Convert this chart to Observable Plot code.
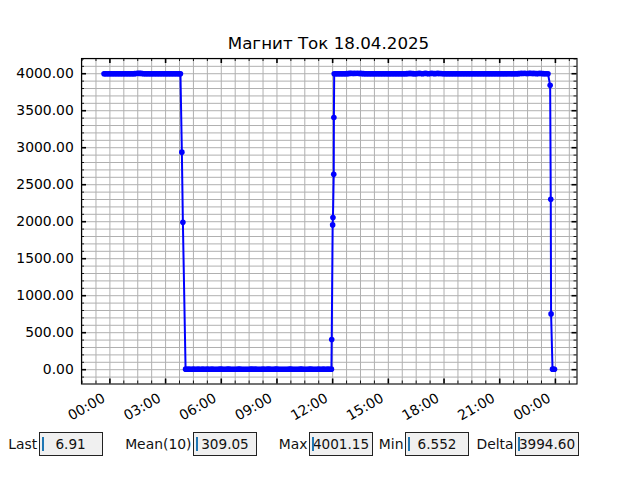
<!DOCTYPE html>
<html>
<head>
<meta charset="utf-8">
<script src="https://cdn.jsdelivr.net/npm/d3@7"></script>
<script src="https://cdn.jsdelivr.net/npm/@observablehq/plot@0.6"></script>
<style>
  body { margin: 0; background: #fff; font-family: "DejaVu Sans", sans-serif; }
  #wrap { position: relative; width: 640px; height: 480px; overflow: hidden; background: #fff; }
  #chart { position: absolute; left: 0; top: 0; }
  #title { position: absolute; left: 0; width: 657px; top: 33px; text-align: center;
           font-size: 16.7px; line-height: 20px; color: #000; white-space: nowrap; }
  .slabel { position: absolute; top: 432px; height: 24px; line-height: 24px; font-size: 13.9px;
            color: #111; white-space: nowrap; text-align: right; }
  .sbox { position: absolute; top: 432px; width: 64px; height: 24px; box-sizing: border-box;
          border: 1px solid #222; background: #f0f0f0; text-align: center; line-height: 22px;
          font-size: 13.6px; color: #111; white-space: nowrap; }
  .cursor { position: absolute; left: 2px; top: 4px; width: 2px; height: 14px; background: #1f77b4; }
</style>
</head>
<body>
<div id="wrap">
  <div id="chart"></div>
  <div id="title"></div>
</div>
<script>
// ---- data: [minutes since 18.04.2025 00:00, current value] ----
const titleText = "Магнит Ток 18.04.2025";

const highMorning = [[-19,4000.1],[-15,4000.0],[-10,3999.9],[-5,4000.1],[0,4000.2],[5,3999.9],[10,4000.0],
  [15,4000.1],[20,3999.8],[25,4000.0],[30,4000.1],[35,3999.9],[40,4000.3],[45,4000.1],[50,4000.0],[55,3999.8],
  [60,3999.9],[65,4000.1],[70,4000.2],[75,4000.0],[80,4001.1],[85,4003.9],[90,4005.5],[95,4004.2],[100,4004.8],
  [105,4002.0],[110,4000.4],[115,4000.0],[120,4000.1],[125,3999.8],[130,3999.9],[135,4000.2],[140,4000.0],
  [145,3999.9],[150,4000.2],[155,4000.1],[160,3999.8],[165,4000.0],[170,4000.1],[175,3999.9],[180,4000.0],
  [185,4000.2],[190,3999.9],[195,4000.0],[200,4000.2],[205,3999.8],[210,4000.1],[215,4000.0],[220,3999.8],
  [225,4000.1],[228,4000.0]];
const dropMorning = [[232.6,2940],[235.9,1993]];
const lowDay = [[244.6,7.0],[250,6.9],[255,7.0],[260,6.8],[265,6.9],[270,7.1],[275,6.8],[280,6.9],[285,7.0],
  [290,6.7],[295,6.9],[300,7.0],[305,6.8],[310,6.8],[315,7.1],[320,6.9],[325,6.7],[330,7.2],[335,6.9],[340,6.6],
  [345,6.8],[350,6.9],[355,7.0],[360,7.0],[365,6.8],[370,6.8],[375,6.9],[380,7.1],[385,7.0],[390,6.9],[395,6.8],
  [400,6.7],[405,6.9],[410,6.9],[415,7.1],[420,7.0],[425,6.8],[430,6.8],[435,6.7],[440,6.6],[445,6.8],
  [450,6.9],[455,7.0],[460,7.1],[465,6.9],[470,7.0],[475,6.8],[480,6.8],[485,6.9],[490,6.9],[495,7.0],
  [500,6.7],[505,6.8],[510,7.0],[515,7.1],[520,6.9],[525,6.8],[530,6.8],[535,7.0],[540,7.1],[545,6.9],
  [550,6.9],[555,6.7],[560,6.6],[565,6.8],[570,6.8],[575,6.9],[580,7.0],[585,7.1],[590,6.9],[595,6.8],
  [600,6.7],[605,6.9],[610,6.9],[615,7.0],[620,7.1],[625,6.9],[630,6.8],[635,6.8],[640,6.9],[645,7.0],
  [650,7.0],[655,6.8],[660,6.7],[665,6.9],[670,6.9],[675,7.0],[680,6.8],[685,6.9],[690,7.0],[695,6.8],
  [700,6.9],[705,7.0],[710,6.8],[716,7.0]];
const rise = [[717,408],[720,1957],[721,2056],[723.5,2640],[724,3408]];
const highEvening = [[725,4000.0],[730,4000.2],[735,4000.0],[740,3999.9],[745,4000.1],[750,4000.1],
  [755,3999.8],[760,4000.3],[765,4001.0],[770,4002.0],[775,4004.1],[780,4005.6],[785,4003.2],[790,4004.9],
  [795,4002.5],[800,4005.8],[805,4003.0],[810,4004.2],[815,4001.8],[820,4001.0],[825,4000.0],[830,4000.1],
  [835,4000.2],[840,3999.8],[845,4000.0],[850,4000.2],[855,3999.9],[860,4000.0],[865,4000.1],[870,3999.9],
  [875,4000.2],[880,4000.1],[885,3999.8],[890,4000.3],[895,4000.0],[900,3999.8],[905,4000.1],[910,4000.0],
  [915,3999.9],[920,4000.2],[925,4000.0],[930,3999.9],[935,4000.1],[940,4000.1],[945,3999.8],[950,4000.0],
  [955,4000.3],[960,4001.2],[965,4003.0],[970,4004.6],[975,4002.1],[980,4001.0],[985,4000.4],[990,4000.2],
  [995,4003.3],[1000,4005.1],[1005,4002.6],[1010,4000.4],[1015,4002.9],[1020,4004.8],[1025,4001.5],
  [1030,4000.3],[1035,4003.1],[1040,4005.3],[1045,4002.8],[1050,4001.1],[1055,4003.4],[1060,4004.7],
  [1065,4003.0],[1070,4002.2],[1075,4000.6],[1080,4000.1],[1085,4000.0],[1090,3999.9],[1095,4000.1],
  [1100,4000.2],[1105,3999.8],[1110,4000.0],[1115,4000.2],[1120,3999.8],[1125,4000.0],[1130,4000.1],
  [1135,3999.9],[1140,4000.2],[1145,4000.0],[1150,3999.9],[1155,4000.1],[1160,4000.0],[1165,3999.8],
  [1170,4000.3],[1175,4000.0],[1180,3999.8],[1185,4000.1],[1190,4000.1],[1195,3999.9],[1200,4000.0],
  [1205,4000.2],[1210,3999.9],[1215,4000.0],[1220,4000.2],[1225,3999.9],[1230,4000.1],[1235,4000.0],
  [1240,3999.8],[1245,4000.1],[1250,4000.0],[1255,3999.9],[1260,4000.2],[1265,4000.0],[1270,3999.9],
  [1275,4000.1],[1280,4000.1],[1285,3999.8],[1290,4000.0],[1295,4000.2],[1300,3999.9],[1305,4000.0],
  [1310,4000.2],[1315,4000.4],[1320,4001.0],[1325,4002.7],[1330,4004.9],[1335,4003.1],[1340,4005.5],
  [1345,4004.0],[1350,4003.8],[1355,4004.4],[1360,4005.2],[1365,4003.3],[1370,4004.6],[1375,4002.4],
  [1380,4001.3],[1385,4003.6],[1390,4005.0],[1395,4002.9],[1400,4001.1],[1405,4000.5],[1410,4000.2],
  [1416,4000.0]];
const dropNight = [[1423,3843],[1425,2303],[1426,754]];
const lowNight = [[1430.7,7.1],[1434,6.552],[1437,6.91]];

// ---- ticks ----
const xMajorMinutes = [0,180,360,540,720,900,1080,1260,1440];
const xTickLabels = ["00:00","03:00","06:00","09:00","12:00","15:00","18:00","21:00","00:00"];
const yMajor = [0,500,1000,1500,2000,2500,3000,3500,4000];

// ---- stats boxes ----
const statLabels = ["Last","Mean(10)","Max","Min","Delta"];
const statValues = ["6.91","309.05","4001.15","6.552","3994.60"];

// ---------------------------------------------------------------
const base = Date.UTC(2025, 3, 18);
const toDate = m => new Date(base + m * 60000);
const samples = [...highMorning, ...dropMorning, ...lowDay, ...rise, ...highEvening, ...dropNight, ...lowNight]
  .map(([m, v]) => ({t: toDate(m), v}));

const [tMin, tMax] = d3.extent(samples, d => d.t);
const tPad = (tMax - tMin) * 0.05;
const [vMin, vMax] = d3.extent(samples, d => d.v);
const vPad = (vMax - vMin) * 0.05;

const W = 640, H = 430, mL = 81, mR = 63.5, mT = 58, mB = H - 383.5;
const fw = W - mL - mR, fh = H - mT - mB;

const xMajor = xMajorMinutes.map(toDate);
const xMinor = d3.range(-90, 1500, 45).filter(m => m % 180 !== 0).map(toDate);
const yMinor = d3.range(-100, 4201, 100).filter(v => v % 500 !== 0);
const xGrid = [...xMajor, ...xMinor];
const yGrid = [...yMajor, ...yMinor];

const chart = Plot.plot({
  width: W, height: H,
  marginLeft: mL, marginRight: mR, marginTop: mT, marginBottom: mB,
  style: {fontFamily: "DejaVu Sans", fontSize: "13.9px", background: "white", color: "black"},
  x: {type: "utc", domain: [new Date(+tMin - tPad), new Date(+tMax + tPad)], axis: null},
  y: {domain: [vMin - vPad, vMax + vPad]},
  marks: [
    Plot.ruleX(xGrid, {x: d => d, stroke: "#b0b0b0", strokeWidth: 1}),
    Plot.ruleY(yGrid, {y: d => d, stroke: "#b0b0b0", strokeWidth: 1}),
    Plot.line(samples, {x: "t", y: "v", stroke: "blue", strokeWidth: 2}),
    Plot.dot(samples, {x: "t", y: "v", r: 2.8, fill: "blue"}),
    Plot.frame({stroke: "black", strokeWidth: 1.1}),
    // inward ticks, bottom / top
    Plot.tickX(xMajor, {x: d => d, insetTop: fh - 5, stroke: "black", strokeWidth: 1.6}),
    Plot.tickX(xMinor, {x: d => d, insetTop: fh - 3, stroke: "black", strokeWidth: 0.9}),
    Plot.tickX(xMajor, {x: d => d, insetBottom: fh - 5, stroke: "black", strokeWidth: 1.6}),
    Plot.tickX(xMinor, {x: d => d, insetBottom: fh - 3, stroke: "black", strokeWidth: 0.9}),
    // inward ticks, left / right
    Plot.tickY(yMajor, {y: d => d, insetRight: fw - 5, stroke: "black", strokeWidth: 1.6}),
    Plot.tickY(yMinor, {y: d => d, insetRight: fw - 3, stroke: "black", strokeWidth: 0.9}),
    Plot.tickY(yMajor, {y: d => d, insetLeft: fw - 5, stroke: "black", strokeWidth: 1.6}),
    Plot.tickY(yMinor, {y: d => d, insetLeft: fw - 3, stroke: "black", strokeWidth: 0.9}),
    Plot.axisY(yMajor, {tickSize: 0, tickPadding: 7.7, tickFormat: d3.format(".2f"), label: null}),
    Plot.text(xMajor, {x: d => d, text: xTickLabels, frameAnchor: "bottom", rotate: -30,
      textAnchor: "end", lineAnchor: "middle", dx: -6, dy: 13, fill: "black"})
  ]
});
document.getElementById("chart").appendChild(chart);
document.getElementById("title").textContent = titleText;

const boxLefts = [38.6, 193, 309, 405, 515];
const wrap = document.getElementById("wrap");
statLabels.forEach((lab, i) => {
  const l = document.createElement("div");
  l.className = "slabel";
  l.style.right = (640 - boxLefts[i] + 1.5) + "px";
  l.textContent = lab;
  wrap.appendChild(l);
  const b = document.createElement("div");
  b.className = "sbox";
  b.style.left = boxLefts[i] + "px";
  b.textContent = statValues[i];
  const c = document.createElement("div");
  c.className = "cursor";
  b.appendChild(c);
  wrap.appendChild(b);
});
</script>
</body>
</html>
